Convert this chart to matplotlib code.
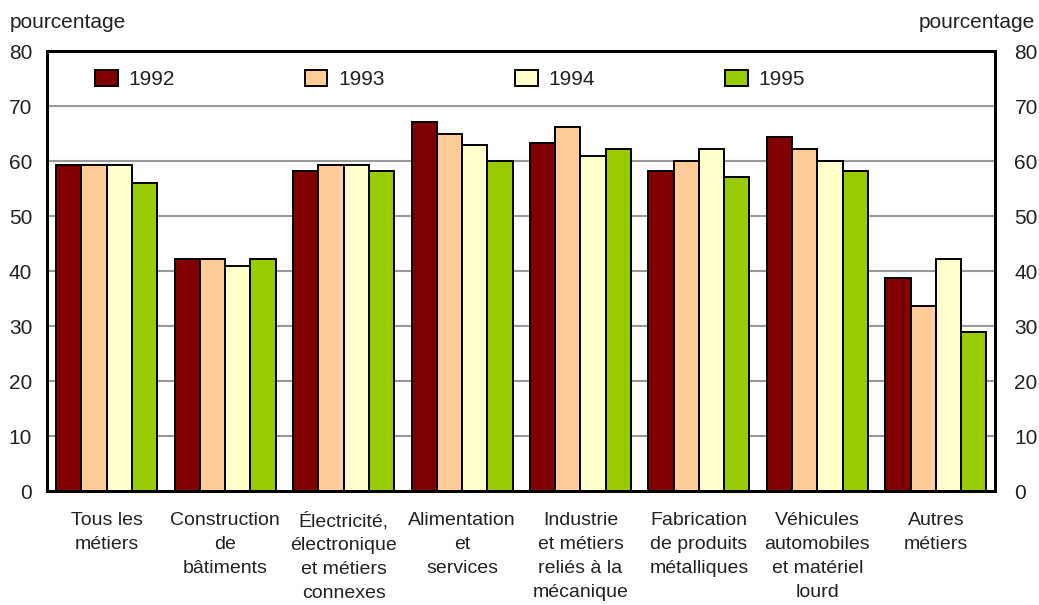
import matplotlib
matplotlib.use("Agg")
import matplotlib.pyplot as plt
import numpy as np

plt.rcParams["font.family"] = ["Liberation Sans", "DejaVu Sans"]

# ── Données ──────────────────────────────────────────────────────────────────
categories = [
    "Tous les\nmétiers",
    "Construction\nde\nbâtiments",
    "Électricité,\nélectronique\net métiers\nconnexes",
    "Alimentation\net\nservices",
    "Industrie\net métiers\nreliés à la\nmécanique",
    "Fabrication\nde produits\nmétalliques",
    "Véhicules\nautomobiles\net matériel\nlourd",
    "Autres\nmétiers",
]
years = ["1992", "1993", "1994", "1995"]
v1992 = [59.3, 42.1, 58.2, 67.1, 63.3, 58.2, 64.4, 38.8]
v1993 = [59.3, 42.1, 59.3, 64.9, 66.2, 60.0, 62.2, 33.7]
v1994 = [59.3, 41.0, 59.3, 63.0, 61.0, 62.2, 60.0, 42.1]
v1995 = [56.0, 42.1, 58.2, 60.0, 62.2, 57.1, 58.2, 28.9]
yticks = [0, 10, 20, 30, 40, 50, 60, 70, 80]

COLORS = ["#800000", "#FFCC99", "#FFFFCC", "#99CC00"]
TXT = "#222222"

fig = plt.figure(figsize=(10.39, 6.05), dpi=100)
ax = fig.add_axes([0.0457, 0.1884, 0.912, 0.7273])

x = np.arange(len(categories))
w = 0.213
series = [v1992, v1993, v1994, v1995]
for i, (vals, col, lab) in enumerate(zip(series, COLORS, years)):
    ax.bar(x + (i - 1.5) * w, vals, width=w, color=col, edgecolor="black",
           linewidth=1.4, label=lab, zorder=3)

ax.set_xlim(-0.5, len(categories) - 0.5)
ax.set_ylim(0, 80)
ax.set_yticks(yticks)
ax.grid(axis="y", color="#999999", linewidth=1.5, zorder=0)
ax.set_axisbelow(True)
ax.tick_params(axis="y", length=0, labelsize=15, colors=TXT, pad=11)
ax.set_xticks(x)
ax.set_xticklabels(categories, fontsize=14, color=TXT, linespacing=1.54, va="top")
ax.tick_params(axis="x", length=0, pad=15)
for s in ax.spines.values():
    s.set_linewidth(2)
    s.set_color("black")

ax2 = ax.twinx()
ax2.set_ylim(0, 80)
ax2.set_yticks(yticks)
ax2.tick_params(axis="y", length=0, labelsize=15, colors=TXT, pad=14)
for s in ax2.spines.values():
    s.set_linewidth(2)

fig.text(0.009, 0.962, "pourcentage", fontsize=15, color=TXT, ha="left", va="center")
fig.text(0.996, 0.962, "pourcentage", fontsize=15, color=TXT, ha="right", va="center")

ax.legend(loc="upper left", bbox_to_anchor=(0.030, 1.0), ncol=4, frameon=False,
          fontsize=15, handlelength=1.1, handleheight=0.8, handletextpad=0.5,
          columnspacing=6.25, labelcolor=TXT)

fig.savefig("out.png", dpi=100)
